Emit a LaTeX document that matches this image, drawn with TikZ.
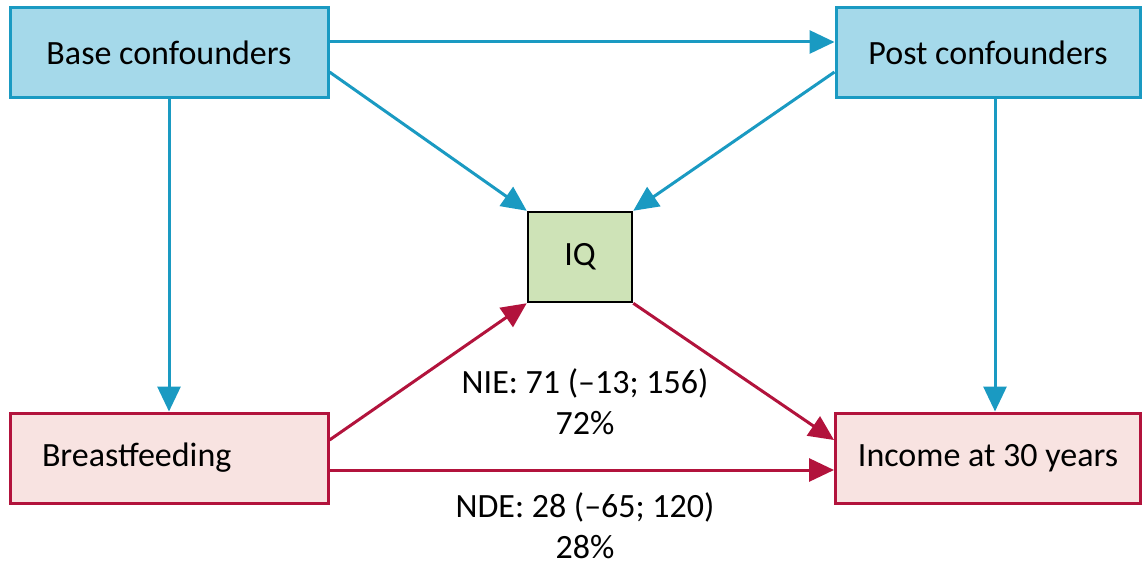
\documentclass[tikz,border=0pt]{standalone}
\usepackage{fontspec}
\setmainfont{Carlito}
\usetikzlibrary{arrows.meta,calc}
\definecolor{bfill}{HTML}{A5D9EA}
\definecolor{bline}{HTML}{1A9AC2}
\definecolor{rline}{HTML}{B2133C}
\definecolor{pfill}{HTML}{F8E3E1}
\definecolor{gfill}{HTML}{CEE3B7}
\tikzset{
  txt/.style={font=\fontsize{34}{41}\selectfont},
  bluebox/.style={txt,draw=bline,fill=bfill,line width=3pt,minimum height=90pt,inner sep=0pt},
  redbox/.style={txt,draw=rline,fill=pfill,line width=3pt,minimum height=90pt,inner sep=0pt},
  greenbox/.style={txt,draw=black,fill=gfill,line width=2.5pt,minimum width=104pt,minimum height=90pt,inner sep=0pt},
  barrow/.style={draw=bline,line width=3pt,-{Triangle[length=25pt,width=23pt]}},
  rarrow/.style={draw=rline,line width=3pt,-{Triangle[length=25pt,width=23pt]}},
  lbl/.style={txt,align=center,inner sep=0pt}
}
\begin{document}
\begin{tikzpicture}[x=1pt,y=-1pt]
\useasboundingbox (0,0) rectangle (1147,567);
\node[bluebox,minimum width=318pt] (base) at (169,53) {Base confounders};
\node[bluebox,minimum width=304pt] (post) at (988,53) {Post confounders};
\node[greenbox] (iq) at (580,257) {IQ};
\node[redbox,minimum width=318pt,text width=254pt,align=left] (bf) at (169,458) {Breastfeeding};
\node[redbox,minimum width=305pt] (inc) at (988,458) {Income at 30 years};
\node[lbl] (nie) at (585,402) {NIE: 71 (–13; 156)\\72\%};
\node[lbl] (nde) at (585,526) {NDE: 28 (–65; 120)\\28\%};
\draw[barrow] ([yshift=11pt]base.east) -- ([yshift=11pt]post.west);
\draw[barrow] ([yshift=-19pt]base.east) -- (iq.north west);
\draw[barrow] ([yshift=-19pt]post.west) -- (iq.north east);
\draw[barrow] (base.south) -- (bf.north);
\draw[barrow] ([xshift=7pt]post.south) -- ([xshift=7pt]inc.north);
\draw[rarrow] ([yshift=18pt]bf.east) -- (iq.south west);
\draw[rarrow] (iq.south east) -- ([yshift=18pt]inc.west);
\draw[rarrow] ([yshift=-12pt]bf.east) -- ([yshift=-12pt]inc.west);
\end{tikzpicture}
\end{document}
